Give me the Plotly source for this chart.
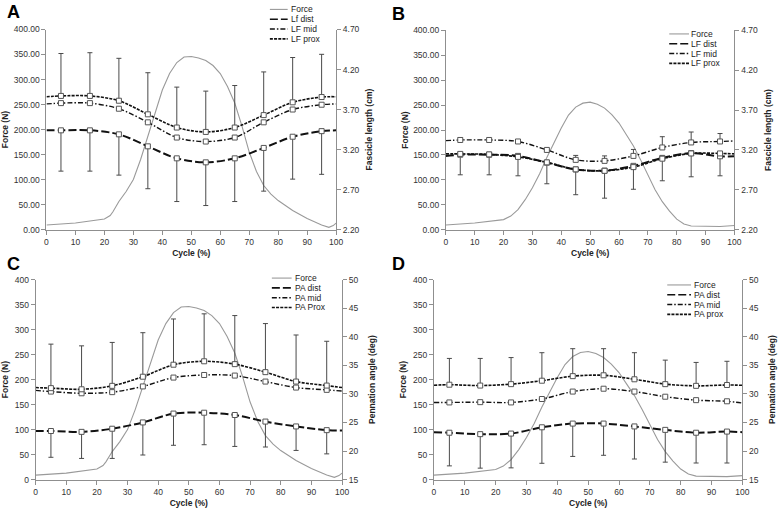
import plotly.graph_objects as go

W, H = 781, 514
FONT = "Liberation Sans, Arial, sans-serif"

# ---------------- data ----------------
CYCLE_LINE = [0, 5, 15, 25, 35, 45, 55, 65, 75, 85, 95, 100]
CYCLE_MARK = [5, 15, 25, 35, 45, 55, 65, 75, 85, 95]

# Force (N), condition 1 (panels A, C)
FORCE_X_1 = [0, 10, 20, 22, 23, 25, 27.5, 30, 32.5, 35, 37.5, 40, 42.5, 45, 47.5, 50, 52.5,
             55, 57.5, 60, 62.5, 65, 67.5, 70, 72.5, 75, 77.5, 80, 85, 90, 95, 97.5, 99, 100]
FORCE_1 = [9, 13, 21, 28, 36, 56, 76, 100, 140, 185, 233, 279, 312, 334, 345, 346, 343,
           338, 328, 312, 286, 253, 207, 155, 116, 88, 71, 58, 38, 22, 9, 4.5, 8, 13]

# Force (N), condition 2 (panels B, D)
FORCE_X_2 = [0, 10, 20, 22.5, 25, 27.5, 30, 32.5, 35, 37.5, 40, 42.5, 45, 47.5, 50, 52.5, 55,
             57.5, 60, 62.5, 65, 67.5, 70, 72.5, 75, 77.5, 80, 82.5, 85, 90, 95, 100]
FORCE_2 = [9, 13, 20, 27, 40, 60, 84, 112, 145, 175, 204, 230, 246, 254, 256, 252, 244,
           231, 214, 191, 168, 140, 109, 80, 56, 37, 21, 11, 7, 6, 6, 8]

# Panel A: fascicle length (cm)
A_DIST = [3.44, 3.44, 3.44, 3.39, 3.24, 3.09, 3.04, 3.09, 3.22, 3.36, 3.43, 3.44]
A_MID = [3.77, 3.78, 3.78, 3.71, 3.54, 3.35, 3.30, 3.35, 3.54, 3.70, 3.76, 3.77]
A_PROX = [3.86, 3.87, 3.87, 3.81, 3.64, 3.475, 3.42, 3.475, 3.63, 3.79, 3.856, 3.86]
A_ERR_TOP = [4.40, 4.41, 4.34, 4.16, 3.98, 3.93, 4.00, 4.17, 4.35, 4.39]
A_ERR_BOTTOM = [2.93, 2.93, 2.88, 2.71, 2.55, 2.50, 2.55, 2.68, 2.83, 2.89]

# Panel B: fascicle length (cm)
B_DIST = [3.125, 3.14, 3.14, 3.125, 3.04, 2.955, 2.94, 3.0, 3.10, 3.16, 3.12, 3.12]
B_MID = [3.317, 3.325, 3.325, 3.306, 3.20, 3.075, 3.0625, 3.125, 3.231, 3.294, 3.306, 3.3125]
B_PROX = [3.15, 3.15, 3.144, 3.1125, 3.044, 2.956, 2.9375, 2.984, 3.09, 3.156, 3.156, 3.15]
B_ERR_TOP = [3.353, 3.329, 3.294, 3.20, 3.131, 3.125, 3.206, 3.366, 3.425, 3.406]
B_ERR_BOTTOM = [2.8875, 2.8875, 2.875, 2.775, 2.6375, 2.594, 2.706, 2.8125, 2.8625, 2.875]

# Panel C: pennation angle (deg)
C_DIST = [23.5, 23.5, 23.35, 23.9, 25.0, 26.55, 26.7, 26.3, 25.15, 24.3, 23.65, 23.6]
C_MID = [30.6, 30.4, 30.1, 30.3, 31.3, 32.85, 33.3, 33.2, 32.15, 31.1, 30.7, 30.5]
C_PROX = [31.1, 31.0, 30.8, 31.4, 33.0, 35.1, 35.7, 35.2, 33.8, 32.15, 31.45, 31.1]
C_ERR_TOP = [38.7, 38.4, 39.0, 40.7, 43.1, 44.0, 43.7, 42.3, 40.3, 39.2]
C_ERR_BOTTOM = [18.9, 18.7, 18.7, 19.3, 21.0, 21.1, 20.8, 20.7, 20.1, 19.5]

# Panel D: pennation angle (deg)
D_DIST = [23.3, 23.2, 22.95, 23.05, 24.15, 24.8, 24.8, 24.3, 23.7, 23.2, 23.4, 23.3]
D_MID = [28.5, 28.5, 28.55, 28.5, 29.1, 30.4, 30.9, 30.4, 29.5, 28.9, 28.7, 28.4]
D_PROX = [31.5, 31.6, 31.45, 31.7, 32.3, 33.1, 33.25, 32.55, 31.7, 31.4, 31.55, 31.5]
D_ERR_TOP = [36.2, 36.2, 36.35, 37.2, 37.9, 37.9, 37.2, 35.9, 35.5, 35.7]
D_ERR_BOTTOM = [17.4, 17.0, 17.05, 17.85, 19.05, 19.25, 18.6, 18.05, 17.9, 17.9]

LEGENDS = {
    "A": ["Force", "Lf dist", "LF mid", "LF prox"],
    "B": ["Force", "LF dist", "LF mid", "LF prox"],
    "C": ["Force", "PA dist", "PA mid", "PA Prox"],
    "D": ["Force", "PA dist", "PA mid", "PA prox"],
}

# ---------------- styles ----------------
FORCE_STYLE = dict(color="#9a9a9a", width=1.1, dash="solid")
DIST_STYLE = dict(color="#111111", width=2.0, dash="8px,3px")
MID_STYLE = dict(color="#111111", width=1.4, dash="5px,2px,1.5px,2px")
PROX_STYLE = dict(color="#111111", width=1.6, dash="3px,1.2px")
ERR_COLOR = "#4a4a4a"
AXIS_COLOR = "#8f8f8f"
FS = 8.5


def px(xp):
    return xp / W


def py(yp):
    return 1 - yp / H


panels = [
    dict(key="A", i=1, xdom=(45, 338), ydom=(25, 229), force=(FORCE_X_1, FORCE_1),
         series=(A_DIST, A_MID, A_PROX), top=A_ERR_TOP, bottom=A_ERR_BOTTOM, top_idx=2,
         lfmt=".2f", rrange=(2.2, 4.7), rdtick=0.5, rfmt=".2f", rtitle="Fascicle length (cm)",
         lstand=3, rstand=7, letter=(3, 0), leg=(271, 289, 291, 4.5)),
    dict(key="B", i=2, xdom=(449, 741), ydom=(26, 229), force=(FORCE_X_2, FORCE_2),
         series=(B_DIST, B_MID, B_PROX), top=B_ERR_TOP, bottom=B_ERR_BOTTOM, top_idx=1,
         lfmt=".2f", rrange=(2.2, 4.7), rdtick=0.5, rfmt=".2f", rtitle="Fascicle length (cm)",
         lstand=3, rstand=8, letter=(393, 2), leg=(675, 695, 696, 29.5)),
    dict(key="C", i=3, xdom=(34, 344), ydom=(280, 484), force=(FORCE_X_1, FORCE_1),
         series=(C_DIST, C_MID, C_PROX), top=C_ERR_TOP, bottom=C_ERR_BOTTOM, top_idx=2,
         lfmt="d", rrange=(15, 50), rdtick=5, rfmt="d", rtitle="Pennation angle (deg)",
         lstand=5, rstand=11, letter=(3, 257), leg=(273, 293, 295, 278.5)),
    dict(key="D", i=4, xdom=(437, 749), ydom=(280, 484), force=(FORCE_X_2, FORCE_2),
         series=(D_DIST, D_MID, D_PROX), top=D_ERR_TOP, bottom=D_ERR_BOTTOM, top_idx=2,
         lfmt="d", rrange=(15, 50), rdtick=5, rfmt="d", rtitle="Pennation angle (deg)",
         lstand=5, rstand=11, letter=(393, 257), leg=(673, 697, 699, 285.5)),
]

fig = go.Figure()
layout = dict(
    width=W, height=H, margin=dict(l=0, r=0, t=0, b=0, pad=0),
    paper_bgcolor="white", plot_bgcolor="white", showlegend=False,
    font=dict(family=FONT, size=FS, color="#222222"),
)
shapes, annotations = [], []

tickfont = dict(family=FONT, size=FS, color="#333333")
titlefont = dict(family=FONT, size=FS, color="#222222", weight="bold")
base_axis = dict(showline=True, linecolor=AXIS_COLOR, linewidth=1, ticks="outside",
                 ticklen=4, tickcolor=AXIS_COLOR, tickwidth=1, showgrid=False,
                 zeroline=False, tickfont=tickfont)

for p in panels:
    i = p["i"]
    xr = "x" if i == 1 else f"x{i}"
    yl = "y" if i == 1 else f"y{i}"
    yr = f"y{i + 4}"
    xname = "xaxis" if i == 1 else f"xaxis{i}"
    ylname = "yaxis" if i == 1 else f"yaxis{i}"
    yrname = f"yaxis{i + 4}"

    layout[xname] = dict(base_axis, domain=[px(p["xdom"][0]), px(p["xdom"][1])], anchor=yl,
                         range=[0, 100], tick0=0, dtick=10,
                         title=dict(text="Cycle (%)", font=titlefont, standoff=4))
    layout[ylname] = dict(base_axis, domain=[py(p["ydom"][1]), py(p["ydom"][0])], anchor=xr,
                          range=[0, 400], tick0=0, dtick=50, tickformat=p["lfmt"],
                          title=dict(text="Force (N)", font=titlefont, standoff=p["lstand"]))
    layout[yrname] = dict(base_axis, overlaying=yl, side="right", anchor=xr,
                          range=list(p["rrange"]), tick0=p["rrange"][0], dtick=p["rdtick"],
                          tickformat=p["rfmt"],
                          title=dict(text=p["rtitle"], font=titlefont, standoff=p["rstand"]))

    names = LEGENDS[p["key"]]
    # force
    fig.add_trace(go.Scatter(x=p["force"][0], y=p["force"][1], mode="lines", name=names[0],
                             line=FORCE_STYLE, xaxis=xr, yaxis=yl, hoverinfo="skip"))
    styles = [DIST_STYLE, MID_STYLE, PROX_STYLE]
    # lines
    for s, st, nm in zip(p["series"], styles, names[1:]):
        fig.add_trace(go.Scatter(x=CYCLE_LINE, y=s, mode="lines", name=nm,
                                 line=dict(st, shape="spline", smoothing=0.9),
                                 xaxis=xr, yaxis=yr))
    # markers with error bars
    for k, s in enumerate(p["series"]):
        vals = s[1:11]
        err = None
        if k == p["top_idx"]:
            err = dict(type="data", symmetric=False,
                       array=[t - v for t, v in zip(p["top"], vals)],
                       arrayminus=[0] * len(vals), color=ERR_COLOR, thickness=1, width=2.5)
        elif k == 0:
            err = dict(type="data", symmetric=False, array=[0] * len(vals),
                       arrayminus=[v - b for v, b in zip(vals, p["bottom"])],
                       color=ERR_COLOR, thickness=1, width=2.5)
        fig.add_trace(go.Scatter(x=CYCLE_MARK, y=vals, mode="markers", showlegend=False,
                                 marker=dict(symbol="square", size=5, color="white",
                                             line=dict(color="#555555", width=1)),
                                 error_y=err, xaxis=xr, yaxis=yr))

    # panel letter
    annotations.append(dict(text=f"<b>{p['key']}</b>", x=px(p["letter"][0]), y=py(p["letter"][1]),
                            xref="paper", yref="paper", xanchor="left", yanchor="top",
                            yshift=5, showarrow=False,
                            font=dict(family=FONT, size=18, color="black")))
    # legend
    lx0, lx1, tx, ly0 = p["leg"]
    for n, (nm, st) in enumerate(zip(names, [FORCE_STYLE] + styles)):
        yy = ly0 + n * 10
        shapes.append(dict(type="line", xref="paper", yref="paper", x0=px(lx0), x1=px(lx1),
                           y0=py(yy), y1=py(yy),
                           line=dict(color=st["color"], width=min(st["width"], 1.6),
                                     dash=st["dash"])))
        annotations.append(dict(text=nm, x=px(tx), y=py(yy), xref="paper", yref="paper",
                                xanchor="left", yanchor="middle", showarrow=False,
                                borderpad=0, font=dict(family=FONT, size=FS, color="#222222")))

layout["shapes"] = shapes
layout["annotations"] = annotations
fig.update_layout(**layout)
fig.write_html("out.html", config={"displayModeBar": False},
               post_script="document.body.style.margin='0px';document.body.style.overflow='hidden';")
